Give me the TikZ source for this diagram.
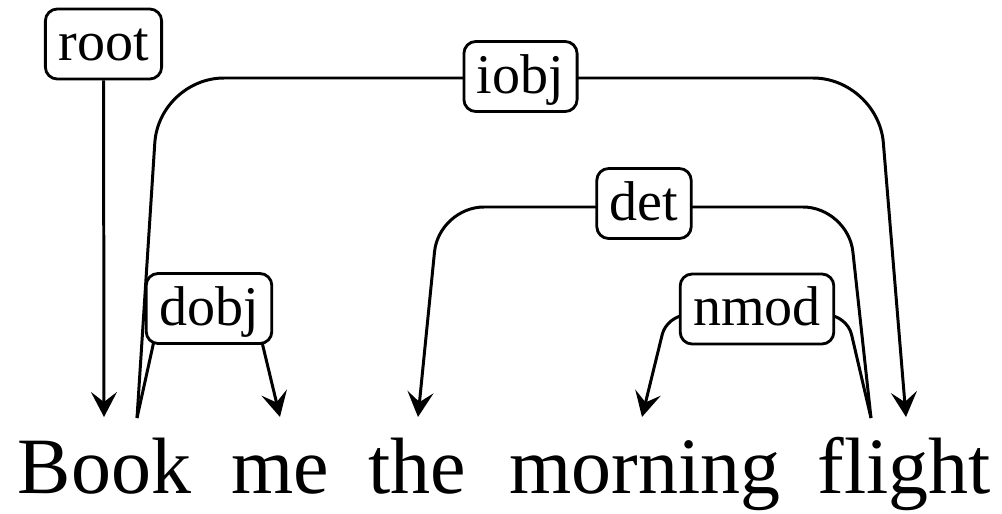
\documentclass[tikz,border=0pt]{standalone}
\usepackage{fontspec}
\setmainfont{Liberation Serif}
\usetikzlibrary{arrows.meta}
\begin{document}
\begin{tikzpicture}[x=0.02cm,y=-0.02cm,
  word/.style={anchor=base,inner sep=0pt,font=\fontsize{45.5}{50}\selectfont},
  rel/.style={draw,fill=white,line width=1.6pt,rounded corners=0.24cm,
    inner xsep=0.26cm,inner ysep=0.14cm,text height=25.5pt,text depth=6.4pt,
    font=\fontsize{31.9}{36}\selectfont},
  dep/.style={line width=1.7pt,-{Stealth[length=0.5cm,width=0.52cm,inset=0.2cm]}}]
\useasboundingbox (0,0) rectangle (1002,514);

% the sentence
\node[word] (book)    at (104.5,493) {Book};
\node[word] (me)      at (280,493)   {me};
\node[word] (the)     at (417.5,493) {the};
\node[word] (morning) at (645,493)   {morning};
\node[word] (flight)  at (904,493)   {flight};

% attachment points above the words
\coordinate (bookOut)   at (137,418);
\coordinate (flightOut) at (871,418);
\coordinate (bookIn)    at (104,417);
\coordinate (meIn)      at (280,417);
\coordinate (theIn)     at (418,417);
\coordinate (morningIn) at (642,417);
\coordinate (flightIn)  at (906,417);

% dependency arcs
\draw[dep,rounded corners=1.3cm] (bookOut) -- (159,78) -- (878,78) -- (flightIn);
\draw[dep,rounded corners=0.9cm] (flightOut) -- (848,207) -- (439,207) -- (theIn);
\draw[dep,rounded corners=0.4cm] (flightOut) -- (847,315) -- (667,315) -- (morningIn);
\draw[dep,rounded corners=0.3cm] (bookOut) -- (161,309) -- (254,309) -- (meIn);

% relation labels, drawn over the arcs
\node[rel] (root) at (103.5,44)   {root};
\node[rel] (iobj) at (520.5,76.5) {iobj};
\node[rel] (det)  at (644,203.5)  {det};
\node[rel] (nmod) at (757,309)    {nmod};
\node[rel] (dobj) at (209,308.5)  {dobj};

% root attachment
\draw[dep] (root) -- (bookIn);
\end{tikzpicture}
\end{document}
